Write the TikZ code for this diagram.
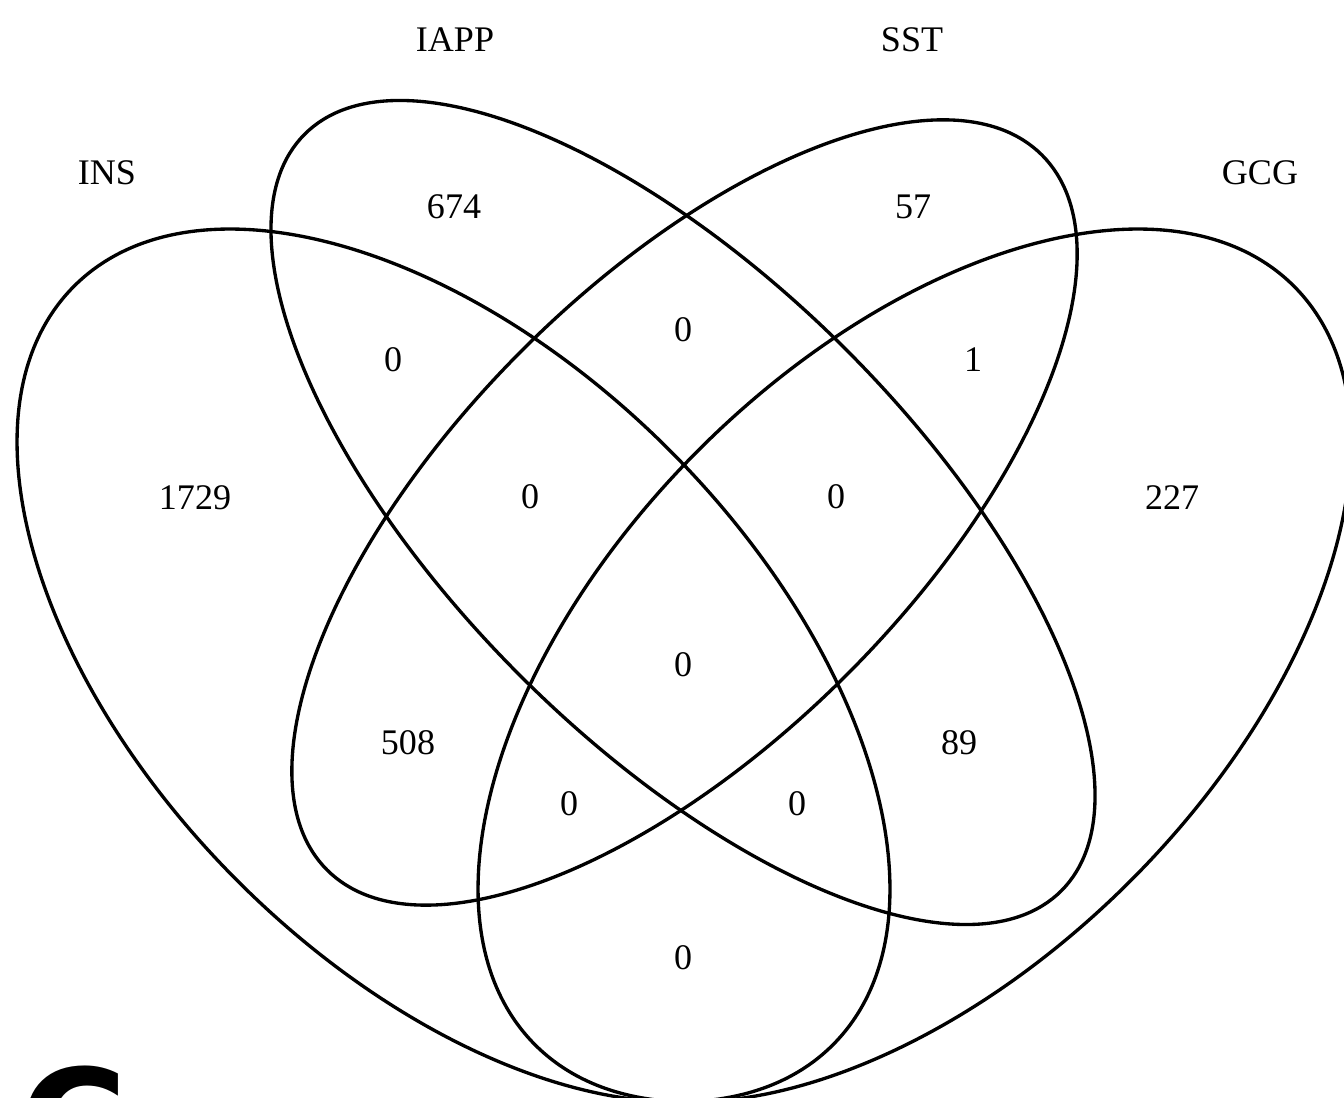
\documentclass[tikz,border=0pt]{standalone}
\usepackage{fontspec}
\setmainfont{Liberation Serif}
\newfontfamily\panelfont{DejaVu Sans}
\usepackage{tikz}
\tikzset{
  setline/.style={black,line width=1.9pt},
  count/.style={font=\fontsize{20.5}{24}\selectfont,inner sep=0pt},
  setname/.style={count},
  panel/.style={font=\panelfont\bfseries\fontsize{84}{84}\selectfont,inner sep=0pt,anchor=base west},
}

\begin{document}
\begin{tikzpicture}[x=1cm,y=1cm]
  \path[use as bounding box] (0,0) rectangle (26.88,21.94);

  % ellipse centres
  \coordinate (insc) at (9.07,8.63);
  \coordinate (iappc) at (13.66,11.69);
  \coordinate (sstc) at (13.69,11.69);
  \coordinate (gcgc) at (18.29,8.63);

  \draw[setline,rotate around={-45:(insc)}] (insc) ellipse [x radius=10.73,y radius=6.10];
  \draw[setline,rotate around={-45:(iappc)}] (iappc) ellipse [x radius=10.70,y radius=4.61];
  \draw[setline,rotate around={45:(sstc)}] (sstc) ellipse [x radius=10.11,y radius=4.59];
  \draw[setline,rotate around={45:(gcgc)}] (gcgc) ellipse [x radius=10.73,y radius=6.10];

  % set names
  \node[setname] (insname) at (2.14,18.48) {INS};
  \node[setname] (iappname) at (9.10,21.14) {IAPP};
  \node[setname] (sstname) at (18.24,21.14) {SST};
  \node[setname] (gcgname) at (25.20,18.48) {GCG};

  % region counts
  \node[count] (ins) at (3.90,11.98) {1729};
  \node[count] (iapp) at (9.08,17.80) {674};
  \node[count] (sst) at (18.26,17.80) {57};
  \node[count] (gcg) at (23.44,11.98) {227};
  \node[count] (insiapp) at (7.86,14.74) {0};
  \node[count] (iappsst) at (13.66,15.34) {0};
  \node[count] (sstgcg) at (19.46,14.74) {1};
  \node[count] (inssst) at (8.16,7.08) {508};
  \node[count] (iappgcg) at (19.18,7.08) {89};
  \node[count] (insgcg) at (13.66,2.78) {0};
  \node[count] (insiappsst) at (10.60,12.00) {0};
  \node[count] (iappsstgcg) at (16.72,12.00) {0};
  \node[count] (inssstgcg) at (11.38,5.86) {0};
  \node[count] (insiappgcg) at (15.94,5.86) {0};
  \node[count] (all) at (13.66,8.64) {0};

  \node[panel] (tag) at (0.38,-1.56) {C};
\end{tikzpicture}
\end{document}
